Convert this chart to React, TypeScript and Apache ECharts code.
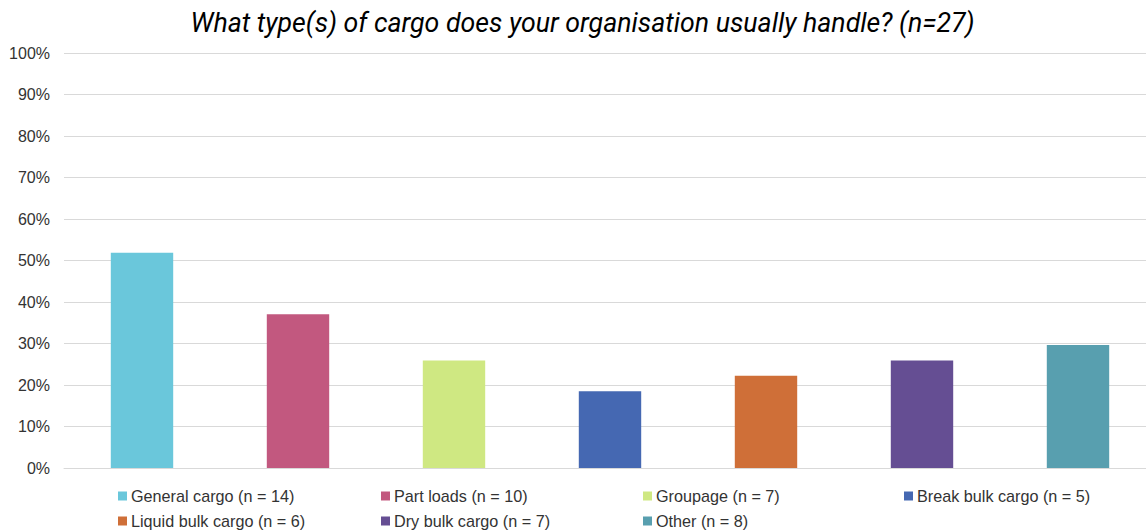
import React, { useEffect, useRef } from "react";
import * as echarts from "echarts";

const categories = [
  "General cargo (n = 14)",
  "Part loads (n = 10)",
  "Groupage (n = 7)",
  "Break bulk cargo (n = 5)",
  "Liquid bulk cargo (n = 6)",
  "Dry bulk cargo (n = 7)",
  "Other (n = 8)",
];
const counts = [14, 10, 7, 5, 6, 7, 8];
const total = 27;
const colors = ["#6AC7DB", "#C2587F", "#CFE882", "#4568B2", "#CF6F38", "#654E93", "#589FAF"];
const title = "What type(s) of cargo does your organisation usually handle? (n=27)";
const legendColumns = [
  { left: 118, items: [0, 4] },
  { left: 381, items: [1, 5] },
  { left: 643, items: [2, 6] },
  { left: 904, items: [3] },
];

export default function App() {
  const ref = useRef<HTMLDivElement>(null);
  useEffect(() => {
    if (!ref.current) return;
    const chart = echarts.init(ref.current, null, { renderer: "svg" });
    const series = categories.map((name, i) => ({
      name,
      type: "bar",
      stack: "all",
      barWidth: "40%",
      itemStyle: { color: colors[i] },
      data: categories.map((_, j) => (j === i ? (counts[i] / total) * 100 : "-")),
    }));
    chart.setOption({
      animation: false,
      backgroundColor: "#ffffff",
      title: {
        text: title,
        left: 577.5,
        textAlign: "center",
        top: 4,
        textStyle: {
          fontFamily: "Roboto",
          fontStyle: "italic",
          fontWeight: "normal",
          fontSize: 26.7,
          color: "#000000",
        },
      },
      grid: { left: 64, right: 4, top: 53, bottom: 63, containLabel: false },
      xAxis: {
        type: "category",
        data: categories,
        axisLine: { show: true, lineStyle: { color: "#d9d9d9" } },
        axisTick: { show: false },
        axisLabel: { show: false },
      },
      yAxis: {
        type: "value",
        min: 0,
        max: 100,
        interval: 10,
        axisLine: { show: false },
        axisTick: { show: false },
        splitLine: { lineStyle: { color: "#d9d9d9", width: 1 } },
        axisLabel: {
          formatter: "{value}%",
          fontFamily: "Liberation Sans",
          fontSize: 16,
          color: "#333333",
          margin: 14,
        },
      },
      legend: legendColumns.map((col) => ({
        orient: "vertical",
        left: col.left,
        top: 488,
        itemWidth: 9,
        itemHeight: 9,
        itemGap: 9,
        icon: "rect",
        data: col.items.map((k) => categories[k]),
        textStyle: {
          fontFamily: "Liberation Sans",
          fontSize: 16.2,
          color: "#333333",
          padding: [0, 0, 0, -1],
        },
        padding: 0,
      })),
      series,
    });
    return () => chart.dispose();
  }, []);
  return (
    <div style={{ position: "absolute", left: 0, top: 0, width: 1146, height: 531, overflow: "hidden" }}>
      <div ref={ref} style={{ width: 1160, height: 531 }} />
    </div>
  );
}
